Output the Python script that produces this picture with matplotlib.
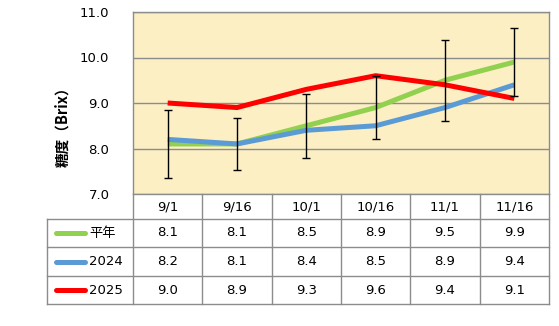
import numpy as np
import matplotlib
matplotlib.use("Agg")
import matplotlib.pyplot as plt
from matplotlib.lines import Line2D

plt.rcParams['font.family'] = ['DejaVu Sans', 'Noto Sans CJK JP']
CJK = ['Noto Sans CJK JP', 'DejaVu Sans']

dates = ['9/1', '9/16', '10/1', '10/16', '11/1', '11/16']
series_names = ['平年', '2024', '2025']
normal = [8.1, 8.1, 8.5, 8.9, 9.5, 9.9]
y2024 = [8.2, 8.1, 8.4, 8.5, 8.9, 9.4]
y2025 = [9.0, 8.9, 9.3, 9.6, 9.4, 9.1]
normal_err = [0.75, 0.58, 0.70, 0.69, 0.89, 0.75]
colors = ['#92D050', '#5B9BD5', '#FF0000']

W, H = 559, 326
fig = plt.figure(figsize=(W / 100, H / 100), dpi=100)

# pixel layout of plot area and table
left, right, top, bottom = 133, 549, 12, 194
label_left = 47
row_edges = [194, 219, 247, 276, 304]

def fx(px):
    return px / W

def fy(py):
    return 1 - py / H

ax = fig.add_axes([fx(left), fy(bottom), fx(right - left), (bottom - top) / H])
ax.set_facecolor('#FDEFC4')
x = np.arange(len(dates))

for vals, c in zip([normal, y2024, y2025], colors):
    ax.plot(x, vals, color=c, lw=3.6, solid_capstyle='butt', zorder=3)
ax.errorbar(x, normal, yerr=normal_err, fmt='none', ecolor='black',
            elinewidth=1, capsize=3.2, capthick=1, zorder=4)

ax.set_xlim(-0.5, len(dates) - 0.5)
ax.set_ylim(7.0, 11.0)
ax.set_yticks(np.arange(7.0, 11.01, 1.0))
ax.set_yticklabels([f'{v:.1f}' for v in np.arange(7.0, 11.01, 1.0)], fontsize=9.5)
ax.tick_params(axis='y', length=0, pad=17)
ax.set_xticks([])
ax.grid(axis='y', color='#8C8C8C', lw=1)
ax.set_axisbelow(True)
for s in ax.spines.values():
    s.set_color('#8C8C8C')
    s.set_linewidth(1)

fig.text(fx(62), fy(123), '糖度（Brix）', family=CJK, fontsize=10.5,
         fontweight='bold', rotation=90, ha='center', va='center')

# data table under the plot
grid_kw = dict(color='#8C8C8C', lw=1, transform=fig.transFigure)
colw = (right - left) / len(dates)
for k in range(len(dates) + 1):
    xp = left + k * colw
    fig.add_artist(Line2D([fx(xp), fx(xp)], [fy(row_edges[0]), fy(row_edges[-1])], **grid_kw))
fig.add_artist(Line2D([fx(label_left)] * 2, [fy(row_edges[1]), fy(row_edges[-1])], **grid_kw))
for r in row_edges[1:]:
    fig.add_artist(Line2D([fx(label_left), fx(right)], [fy(r), fy(r)], **grid_kw))

for j, d in enumerate(dates):
    cx = left + (j + 0.5) * colw
    fig.text(fx(cx), fy((row_edges[0] + row_edges[1]) / 2), d, fontsize=9.5,
             ha='center', va='center')

for i, (name, vals, c) in enumerate(zip(series_names, [normal, y2024, y2025], colors)):
    cy = (row_edges[i + 1] + row_edges[i + 2]) / 2
    fig.add_artist(Line2D([fx(56), fx(85)], [fy(cy), fy(cy)], color=c, lw=3.6,
                          solid_capstyle='round', transform=fig.transFigure))
    fig.text(fx(89), fy(cy), name, fontsize=9.5, ha='left', va='center')
    for j, v in enumerate(vals):
        cx = left + (j + 0.5) * colw
        fig.text(fx(cx), fy(cy), f'{v:.1f}', fontsize=9.5, ha='center', va='center')

fig.savefig('out.png', dpi=100)
